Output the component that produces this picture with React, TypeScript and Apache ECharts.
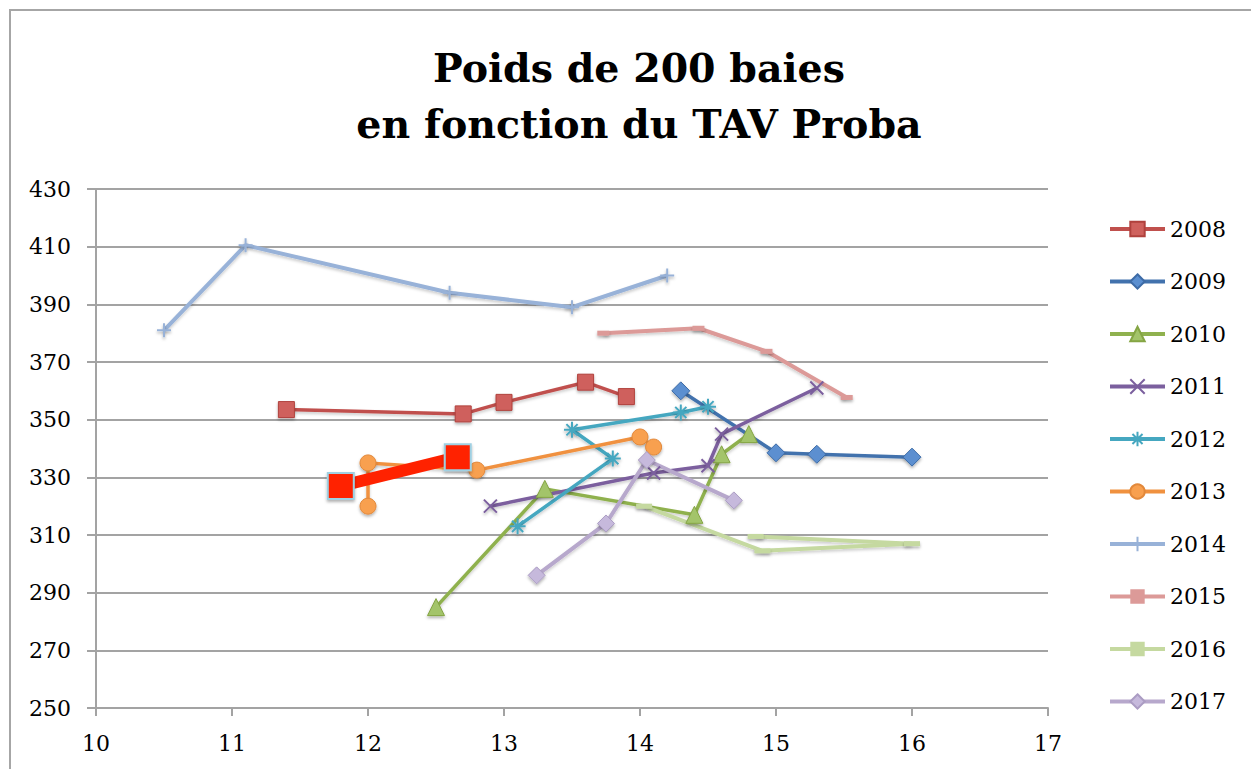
import React, { useEffect, useRef } from "react";
import * as echarts from "echarts";

const years = ["2008", "2009", "2010", "2011", "2012", "2013", "2014", "2015", "2016", "2017"];

const s2008 = [[11.4, 353.5], [12.7, 352], [13.0, 356], [13.6, 363], [13.9, 358]];
const s2009 = [[14.3, 360], [15.0, 338.5], [15.3, 338], [16.0, 337]];
const s2010 = [[12.5, 285], [13.3, 326], [14.4, 317], [14.6, 338], [14.8, 345]];
const s2011 = [[12.9, 320], [14.1, 331.5], [14.5, 334], [14.6, 345], [15.3, 361]];
const s2012 = [[13.1, 313], [13.8, 336.5], [13.5, 346.5], [14.3, 352.5], [14.5, 354.5]];
const s2013 = [[12.0, 320], [12.0, 335], [12.8, 332.5], [14.0, 344], [14.1, 340.5]];
const s2014 = [[10.5, 381], [11.1, 410.5], [12.6, 394], [13.5, 389], [14.2, 400]];
const s2015 = [[13.73, 380], [14.43, 381.7], [14.93, 373.7], [15.52, 357.7]];
const s2016 = [[14.03, 320], [14.9, 304.5], [16.0, 307], [14.85, 309.5]];
const s2017 = [[13.24, 296], [13.75, 314], [14.05, 336], [14.69, 322]];
const highlight = [[11.8, 327], [12.66, 337]];

const xTicks = { min: 10, max: 17, interval: 1 };
const yTicks = { min: 250, max: 430, interval: 20 };

const SERIF = "'DejaVu Serif', serif";
const shadow = { shadowColor: "rgba(0,0,0,0.3)", shadowBlur: 3, shadowOffsetY: 2 };

function mk(name: string, data: number[][], color: string, lineW: number, symbol: string, size: any, fill: string, border: string, bw: number) {
  return {
    name,
    type: "line",
    data,
    color,
    symbol,
    symbolSize: size,
    lineStyle: { color, width: lineW, ...shadow, shadowColor: "rgba(0,0,0,0.2)" },
    itemStyle: { color: fill, borderColor: border, borderWidth: bw, ...shadow },
    emphasis: { disabled: true },
    z: 2,
  };
}

export default function App() {
  const ref = useRef<HTMLDivElement>(null);
  useEffect(() => {
    if (!ref.current) return;
    const chart = echarts.init(ref.current, undefined, { renderer: "svg" });
    const X = "path://M0,0L10,10M10,0L0,10";
    const AST = "path://M5,0L5,10M0,5L10,5M1.5,1.5L8.5,8.5M8.5,1.5L1.5,8.5";
    const PLUS = "path://M5,0L5,10M0,5L10,5";
    const datas = [s2008, s2009, s2010, s2011, s2012, s2013, s2014, s2015, s2016, s2017];
    const series: any[] = [
      mk(years[0], datas[0], "#c0504d", 3.5, "rect", 16, "#cf615d", "#b0413d", 1),
      mk(years[1], datas[1], "#4272ad", 3.5, "diamond", 18, "#5b8fd0", "#3d6ba6", 1),
      mk(years[2], datas[2], "#8fb14e", 3.5, "triangle", 17, "#a3c46a", "#85a544", 1),
      mk(years[3], datas[3], "#7b5f9e", 3.5, X, 13, "#7b5f9e", "#7b5f9e", 2),
      mk(years[4], datas[4], "#45a7c0", 3.5, AST, 16, "#45a7c0", "#45a7c0", 2),
      mk(years[5], datas[5], "#f0913f", 3.5, "circle", 16, "#f8a04f", "#e2883a", 1),
      mk(years[6], datas[6], "#98b2d8", 4, PLUS, 14, "#98b2d8", "#98b2d8", 2),
      mk(years[7], datas[7], "#dc9a98", 4, "rect", [12, 5], "#dc9a98", "#dc9a98", 0),
      mk(years[8], datas[8], "#c5d9a0", 4, "rect", [16, 5], "#c5d9a0", "#c5d9a0", 0),
      mk(years[9], datas[9], "#b7a8cc", 4, "diamond", 17, "#c6b9dc", "#ab9cc3", 1),
      {
        name: "sélection",
        type: "line",
        data: highlight,
        symbol: "rect",
        symbolSize: 26,
        lineStyle: { color: "#ff2200", width: 12 },
        itemStyle: { color: "#ff2200", borderColor: "#9fd0e2", borderWidth: 2, ...shadow },
        emphasis: { disabled: true },
        z: 5,
      },
    ];
    chart.setOption({
      animation: false,
      backgroundColor: "#ffffff",
      title: {
        text: "Poids de 200 baies\nen fonction du TAV Proba",
        left: 634,
        top: 35,
        textAlign: "center",
        textStyle: { fontFamily: SERIF, fontWeight: "bold", fontSize: 39.5, lineHeight: 56, color: "#000" },
      },
      legend: {
        data: years,
        orient: "vertical",
        left: 1103,
        top: 213,
        itemWidth: 55,
        itemHeight: 18,
        itemGap: 30.5,
        lineStyle: { width: 4 },
        textStyle: { fontFamily: SERIF, fontSize: 22, color: "#000" },
        selectedMode: false,
      },
      grid: { left: 96, right: 203, top: 189, bottom: 61, containLabel: false },
      xAxis: {
        type: "value",
        min: xTicks.min,
        max: xTicks.max,
        interval: xTicks.interval,
        axisLine: { show: true, lineStyle: { color: "#a3a3a3", width: 2 } },
        axisTick: { show: true, length: 8, lineStyle: { color: "#a3a3a3", width: 2 } },
        axisLabel: { fontFamily: SERIF, fontSize: 22, color: "#000", margin: 24 },
        splitLine: { show: false },
      },
      yAxis: {
        type: "value",
        min: yTicks.min,
        max: yTicks.max,
        interval: yTicks.interval,
        axisLine: { show: true, lineStyle: { color: "#a3a3a3", width: 2 } },
        axisTick: { show: true, length: 9, lineStyle: { color: "#a3a3a3", width: 2 } },
        axisLabel: { fontFamily: SERIF, fontSize: 22, color: "#000", margin: 25 },
        splitLine: { show: true, lineStyle: { color: "#a3a3a3", width: 2 } },
      },
      graphic: [
        {
          type: "rect",
          shape: { x: 10, y: 10, width: 1300, height: 820 },
          style: { fill: "none", stroke: "#a6a6a6", lineWidth: 2 },
          silent: true,
          z: -1,
        },
      ],
      series,
    });
    return () => chart.dispose();
  }, []);
  return <div ref={ref} style={{ position: "fixed", left: 0, top: 0, width: 1251, height: 769 }} />;
}
